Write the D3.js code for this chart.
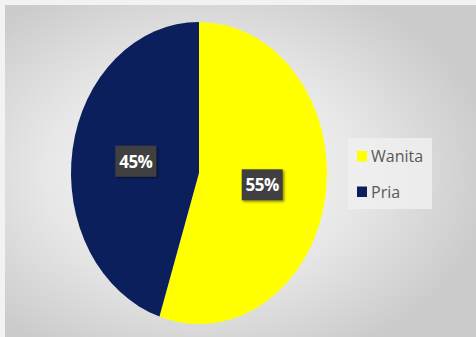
<!DOCTYPE html>
<html>
<head>
<meta charset="utf-8">
<script src="https://cdn.jsdelivr.net/npm/d3@7"></script>
<style>
  html, body { margin: 0; padding: 0; background: #f2f2f2; }
  svg { display: block; }
</style>
</head>
<body>
<svg id="chart" width="476" height="337"></svg>
<script>
// data
const categories = ['Wanita', 'Pria'];
const values = [55, 45];
const colors = ['#ffff00', '#0b1f5c'];

const buildChart = function() {
    const width = 476, height = 337;
    const cx = 199, cy = 173;
    const rx = 128, ry = 151;

    const svg = d3.select('#chart');
    const defs = svg.append('defs');

    const bg = defs.append('radialGradient')
        .attr('id', 'bg')
        .attr('cx', '0.42').attr('cy', '0.5')
        .attr('r', '0.62');
    bg.append('stop').attr('offset', '0%').attr('stop-color', '#fdfdfd');
    bg.append('stop').attr('offset', '55%').attr('stop-color', '#e6e6e6');
    bg.append('stop').attr('offset', '100%').attr('stop-color', '#cbcbcb');

    const shadow = defs.append('filter').attr('id', 'shadow')
        .attr('x', '-20%').attr('y', '-20%').attr('width', '150%').attr('height', '150%');
    shadow.append('feDropShadow')
        .attr('dx', 1.5).attr('dy', 1.5).attr('stdDeviation', 1.2)
        .attr('flood-color', '#000').attr('flood-opacity', 0.45);

    svg.append('rect')
        .attr('x', 5).attr('y', 5)
        .attr('width', width - 5).attr('height', height - 5)
        .attr('fill', 'url(#bg)');

    const pie = d3.pie().sort(null).value((d) => d)(values);
    const arc = d3.arc().innerRadius(0).outerRadius(rx);

    // pie is an ellipse, so draw a circle and stretch it vertically
    const g = svg.append('g')
        .attr('transform', `translate(${cx},${cy}) scale(1,${ry / rx})`);
    g.selectAll('path')
        .data(pie)
        .enter()
        .append('path')
        .attr('d', arc)
        .attr('fill', (d, i) => colors[i]);

    // percentage labels
    const labels = svg.append('g');
    pie.forEach(function(d, i) {
        const c = arc.centroid(d);
        const x = cx + c[0];
        const y = cy + c[1] * ry / rx;
        const lg = labels.append('g').attr('transform', `translate(${x},${y})`);
        lg.append('rect')
            .attr('x', -20.5).attr('y', -15.5)
            .attr('width', 41).attr('height', 31)
            .attr('fill', '#404040')
            .attr('filter', 'url(#shadow)');
        lg.append('text')
            .attr('text-anchor', 'middle')
            .attr('y', 6.5)
            .attr('fill', '#ffffff')
            .attr('font-family', 'Open Sans, sans-serif')
            .attr('font-weight', 'bold')
            .attr('font-size', '17px')
            .attr('letter-spacing', '-0.5px')
            .text(values[i] + '%');
    });

    // legend
    const legend = svg.append('g');
    legend.append('rect')
        .attr('x', 348).attr('y', 138)
        .attr('width', 84).attr('height', 71)
        .attr('fill', '#f0f0f0')
        .attr('opacity', 0.8);
    categories.forEach(function(name, i) {
        const y = 151 + i * 35.5;
        legend.append('rect')
            .attr('x', 357).attr('y', y)
            .attr('width', 10).attr('height', 10.5)
            .attr('fill', colors[i]);
        legend.append('text')
            .attr('x', 371)
            .attr('y', y + 11)
            .attr('fill', '#595959')
            .attr('font-family', 'Open Sans, sans-serif')
            .attr('font-size', '16px')
            .text(name);
    });
};

buildChart();
</script>
</body>
</html>
